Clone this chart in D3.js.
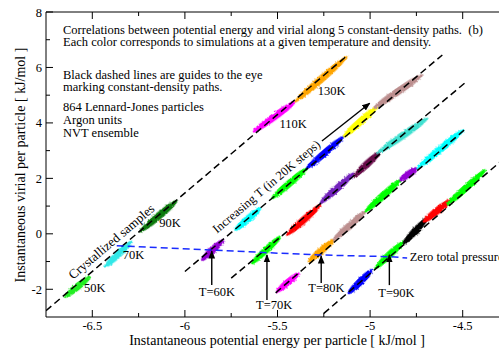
<!DOCTYPE html>
<html>
<head>
<meta charset="utf-8">
<script src="https://cdn.jsdelivr.net/npm/d3@7"></script>
<style>
  body { margin: 0; background: #fff; }
</style>
</head>
<body>
<div id="chart"></div>
<script>
// potential energy (x) vs virial (y), both per particle in kJ/mol
const xTicks = [-6.5, -6, -5.5, -5, -4.5];
const yTicks = [-2, 0, 2, 4, 6, 8];

// clusters along each constant-density path: [colour, [E from, E to], [W from, W to]]
const crystalPath = [
  ['#22ee22', [-6.647, -6.512], [-2.27, -1.545]],
  ['#33e8e8', [-6.431, -6.287], [-1.185, -0.283]],
  ['#0c7a0c', [-6.242, -6.043], [0.077, 1.195]],
  ['#ff00ff', [-5.629, -5.404], [3.683, 4.765]],
  ['#ffa500', [-5.404, -5.125], [4.765, 6.388]]
];
const path60 = [
  ['#9400d3', [-5.908, -5.792], [-0.943, -0.222]],
  ['#00ffff', [-5.728, -5.593], [0.139, 0.921]],
  ['#00ff00', [-5.530, -5.341], [1.282, 2.364]],
  ['#0000ff', [-5.341, -5.143], [2.364, 3.503]],
  ['#ffff00', [-5.143, -4.962], [3.503, 4.585]],
  ['#bc8f8f', [-4.981, -4.719], [4.527, 5.728]]
];
const path70 = [
  ['#00ff00', [-5.638, -5.485], [-1.063, -0.103]],
  ['#ff0000', [-5.449, -5.269], [-0.042, 1.040]],
  ['#7221bc', [-5.269, -5.089], [1.100, 2.183]],
  ['#670748', [-5.089, -4.945], [2.060, 2.962]],
  ['#40e0d0', [-4.963, -4.690], [2.900, 4.160]]
];
const path80 = [
  ['#ff00ff', [-5.503, -5.386], [-2.087, -1.423]],
  ['#ffa500', [-5.332, -5.197], [-1.004, -0.222]],
  ['#bc8f8f', [-5.197, -5.026], [-0.222, 0.799]],
  ['#00ff00', [-5.026, -4.836], [0.799, 1.942]],
  ['#9400d3', [-4.836, -4.746], [1.942, 2.364]],
  ['#00ffff', [-4.746, -4.496], [2.364, 3.745]]
];
const path90 = [
  ['#0000ff', [-5.116, -4.990], [-2.144, -1.304]],
  ['#00ff00', [-4.972, -4.819], [-1.243, -0.283]],
  ['#000000', [-4.819, -4.692], [-0.341, 0.560]],
  ['#ff0000', [-4.711, -4.566], [0.438, 1.220]],
  ['#00ff00', [-4.584, -4.377], [1.040, 2.302]]
];

// black dashed guides: [[E, W] start, [E, W] end]
const guides = [
  [[-6.75, -2.77], [-5.12, 6.45]],
  [[-6.00, -1.36], [-4.61, 6.45]],
  [[-5.75, -1.60], [-4.49, 5.43]],
  [[-5.51, -2.13], [-4.48, 3.81]],
  [[-5.25, -2.87], [-4.25, 2.87]]
];

// zero total pressure line
const zeroE = [-6.368, -5.854, -5.557, -5.269, -4.900, -4.800];
const zeroW = [-0.428, -0.583, -0.680, -0.763, -0.824, -0.871];

const width = 499, height = 351;
const margin = { top: 12, left: 46 };
const plotW = 463, plotH = 305;
const font = '"Liberation Serif", "Times New Roman", "DejaVu Serif", serif';
const fs = 12.5;

const svg = d3.select('#chart').append('svg')
  .attr('width', width)
  .attr('height', height)
  .attr('font-family', font);

const x = d3.scaleLinear().domain([-6.75, -4.25]).range([margin.left, margin.left + plotW]);
const y = d3.scaleLinear().domain([-3, 8]).range([margin.top + plotH, margin.top]);

const defs = svg.append('defs');
defs.append('clipPath').attr('id', 'plot')
  .append('rect')
  .attr('x', margin.left).attr('y', margin.top)
  .attr('width', plotW).attr('height', plotH);

// fuzzy edge for the sample clouds
const rough = defs.append('filter').attr('id', 'rough')
  .attr('x', '-20%').attr('y', '-20%').attr('width', '140%').attr('height', '140%');
rough.append('feTurbulence').attr('type', 'fractalNoise').attr('baseFrequency', 0.9)
  .attr('numOctaves', 2).attr('seed', 3).attr('result', 'n');
rough.append('feDisplacementMap').attr('in', 'SourceGraphic').attr('in2', 'n')
  .attr('scale', 3).attr('xChannelSelector', 'R').attr('yChannelSelector', 'G');

defs.append('marker').attr('id', 'head')
  .attr('viewBox', '0 0 10 10').attr('refX', 9).attr('refY', 5)
  .attr('markerWidth', 6).attr('markerHeight', 6).attr('orient', 'auto')
  .append('path').attr('d', 'M0,1 L10,5 L0,9 Z').attr('fill', '#000');

const g = svg.append('g').attr('clip-path', 'url(#plot)');

function drawClusters(list) {
  list.forEach(([col, e, w]) => {
    const x0 = x(e[0]), y0 = y(w[0]), x1 = x(e[1]), y1 = y(w[1]);
    const cx = (x0 + x1) / 2, cy = (y0 + y1) / 2;
    const len = Math.hypot(x1 - x0, y1 - y0);
    const ang = Math.atan2(y1 - y0, x1 - x0) * 180 / Math.PI;
    g.append('ellipse')
      .attr('cx', cx).attr('cy', cy)
      .attr('rx', len / 2 + 1).attr('ry', 3.6)
      .attr('transform', `rotate(${ang},${cx},${cy})`)
      .attr('fill', col)
      .attr('filter', 'url(#rough)');
  });
}
[crystalPath, path60, path70, path80, path90].forEach(drawClusters);

g.selectAll('line.guide')
  .data(guides)
  .enter().append('line')
    .attr('class', 'guide')
    .attr('x1', d => x(d[0][0])).attr('y1', d => y(d[0][1]))
    .attr('x2', d => x(d[1][0])).attr('y2', d => y(d[1][1]))
    .attr('stroke', '#000')
    .attr('stroke-width', 1.5)
    .attr('stroke-dasharray', '7,4');

g.append('path')
  .attr('d', d3.line().x((d, i) => x(zeroE[i])).y((d, i) => y(zeroW[i]))(zeroE))
  .attr('fill', 'none')
  .attr('stroke', '#1a2cff')
  .attr('stroke-width', 1.5)
  .attr('stroke-dasharray', '7,4');

// frame and ticks (all inward)
const frame = svg.append('g');
frame.append('line').attr('x1', margin.left).attr('x2', margin.left)
  .attr('y1', margin.top).attr('y2', margin.top + plotH).attr('stroke', '#000');
frame.append('line').attr('x1', margin.left).attr('x2', margin.left + plotW)
  .attr('y1', margin.top).attr('y2', margin.top).attr('stroke', '#000');
frame.append('line').attr('x1', margin.left).attr('x2', margin.left + plotW)
  .attr('y1', margin.top + plotH).attr('y2', margin.top + plotH).attr('stroke', '#000');

const xMinor = d3.range(-6.5, -4.25, 0.25);
const yMinor = d3.range(-2, 8.01, 1);
xMinor.forEach(v => {
  const major = Math.abs(v * 2 - Math.round(v * 2)) < 1e-6;
  const l = major ? 7 : 4;
  frame.append('line').attr('x1', x(v)).attr('x2', x(v))
    .attr('y1', margin.top + plotH).attr('y2', margin.top + plotH - l).attr('stroke', '#000');
  frame.append('line').attr('x1', x(v)).attr('x2', x(v))
    .attr('y1', margin.top).attr('y2', margin.top + l).attr('stroke', '#000');
});
yMinor.forEach(v => {
  const l = v % 2 === 0 ? 7 : 4;
  frame.append('line').attr('x1', margin.left).attr('x2', margin.left + l)
    .attr('y1', y(v)).attr('y2', y(v)).attr('stroke', '#000');
});

frame.selectAll('text.xt').data(xTicks).enter().append('text')
  .attr('x', d => x(d)).attr('y', margin.top + plotH + 13)
  .attr('text-anchor', 'middle').attr('font-size', fs)
  .text(d => d);
frame.selectAll('text.yt').data(yTicks).enter().append('text')
  .attr('x', margin.left - 4).attr('y', d => y(d) + 4.5)
  .attr('text-anchor', 'end').attr('font-size', fs)
  .text(d => d);

svg.append('text')
  .attr('x', 277).attr('y', 345)
  .attr('text-anchor', 'middle').attr('font-size', 14)
  .text('Instantaneous potential energy per particle [ kJ/mol ]');
svg.append('text')
  .attr('transform', 'translate(25,165) rotate(-90)')
  .attr('text-anchor', 'middle').attr('font-size', 14)
  .text('Instantaneous virial per particle [ kJ/mol ]');

// annotations
const notes = [
  ['Correlations between potential energy and virial along 5 constant-density paths.  (b)', -6.658, 7.21],
  ['Each color corresponds to simulations at a given temperature and density.', -6.658, 6.77],
  ['Black dashed lines are guides to the eye', -6.658, 5.57],
  ['marking constant-density paths.', -6.658, 5.15],
  ['864 Lennard-Jones particles', -6.658, 4.43],
  ['Argon units', -6.658, 3.96],
  ['NVT ensemble', -6.658, 3.49],
  ['50K', -6.545, -2.10],
  ['70K', -6.335, -0.91],
  ['90K', -6.138, 0.25],
  ['110K', -5.489, 3.83],
  ['130K', -5.283, 5.01],
  ['Zero total pressure', -4.786, -0.98]
];
svg.selectAll('text.note').data(notes).enter().append('text')
  .attr('x', d => x(d[1])).attr('y', d => y(d[2]))
  .attr('font-size', fs)
  .style('white-space', 'pre')
  .text(d => d[0]);

const tLabels = [
  ['T=60K', -5.827, -2.26, -5.855, -1.85, -0.62],
  ['T=70K', -5.518, -2.71, -5.557, -2.39, -0.76],
  ['T=80K', -5.236, -2.09, -5.264, -1.77, -0.80],
  ['T=90K', -4.858, -2.27, -4.896, -1.85, -0.76]
];
tLabels.forEach(([t, lx, ly, ax, a0, a1]) => {
  svg.append('text').attr('x', x(lx)).attr('y', y(ly))
    .attr('text-anchor', 'middle').attr('font-size', fs).text(t);
  svg.append('line').attr('x1', x(ax)).attr('x2', x(ax))
    .attr('y1', y(a0)).attr('y2', y(a1))
    .attr('stroke', '#000').attr('stroke-width', 1.4)
    .attr('marker-end', 'url(#head)');
});

svg.append('line')
  .attr('x1', x(-5.260)).attr('y1', y(3.348))
  .attr('x2', x(-5.002)).attr('y2', y(4.708))
  .attr('stroke', '#000').attr('stroke-width', 1.4)
  .attr('marker-end', 'url(#head)');

const slope = Math.atan2(y(6.45) - y(-2.77), x(-5.12) - x(-6.75)) * 180 / Math.PI;
svg.append('text')
  .attr('transform', `translate(${x(-6.604)},${y(-1.66)}) rotate(${slope})`)
  .attr('font-size', 13)
  .text('Crystallized samples');
svg.append('text')
  .attr('transform', `translate(${x(-5.826)},${y(0.0)}) rotate(${slope})`)
  .attr('font-size', fs)
  .text('Increasing T (in 20K steps)');
</script>
</body>
</html>
